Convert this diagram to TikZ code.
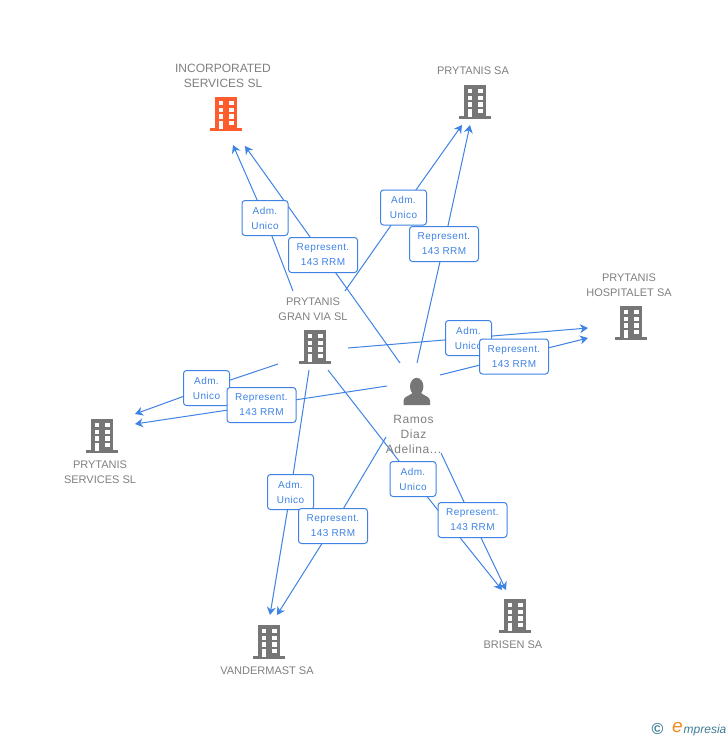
\documentclass[tikz,border=0pt]{standalone}
\usepackage{fontspec}
\setmainfont{Liberation Sans}
\newfontfamily\boxfont[LetterSpace=4]{Liberation Sans}
\newfontfamily\personfont[LetterSpace=5]{Liberation Sans}
\usetikzlibrary{arrows.meta}
\definecolor{linkblue}{HTML}{3F83E4}
\definecolor{icongray}{HTML}{767676}
\definecolor{textgray}{HTML}{7F7F7F}
\definecolor{iconorange}{HTML}{FF5C2E}
\definecolor{logoteal}{HTML}{3E7C96}
\definecolor{logoorange}{HTML}{F28A1E}
\tikzset{
  link/.style={draw=linkblue,line width=1pt},
  arrowlink/.style={link,-{Stealth[length=8pt,width=9pt]}},
  relbox/.style={draw=linkblue,line width=1pt,fill=white,rounded corners=3pt,align=center,
    text=linkblue,font=\boxfont\fontsize{10}{15}\selectfont,inner sep=0pt},
  admbox/.style={relbox,minimum width=46pt,minimum height=35pt},
  repbox/.style={relbox,minimum width=69pt,minimum height=35pt},
  company/.style={text=textgray,align=center,font=\fontsize{11}{15}\selectfont,inner sep=0pt},
  building/.pic={
    \fill[pic actions] (-11,-17) rectangle (11,15);
    \fill[pic actions] (-16,14) rectangle (16,17);
    \foreach \wy in {-13,-6.3,0.3}{
      \fill[white] (-7.5,\wy) rectangle ++(4.8,4.2);
      \fill[white] (2.7,\wy) rectangle ++(4.8,4.2);
    }
    \fill[white] (-7.5,7) rectangle (-2.7,14.7);
    \fill[white] (2.7,7) rectangle (7.5,11.2);
  }
}
\begin{document}
\begin{tikzpicture}[x=1pt,y=-1pt]
\useasboundingbox (0,0) rectangle (728,740);

\coordinate (gvin) at (293,291);
\coordinate (gvsa) at (345,291);
\coordinate (gvho) at (348,348);
\coordinate (gvse) at (278,364);
\coordinate (gvva) at (309,370);
\coordinate (gvbr) at (328,370);
\coordinate (rain) at (400,363);
\coordinate (rasa) at (417,363);
\coordinate (raho) at (440,375);
\coordinate (rase) at (387,386);
\coordinate (rava) at (386,437);
\coordinate (rabr) at (441,453);
\coordinate (incadm) at (233,145);
\coordinate (increp) at (245,146);
\coordinate (saadm) at (462,125);
\coordinate (sarep) at (470,125);
\coordinate (hoadm) at (588,328);
\coordinate (horep) at (588,338);
\coordinate (seadm) at (135,414);
\coordinate (serep) at (135,424);
\coordinate (vaadm) at (270,615);
\coordinate (varep) at (277,615);
\coordinate (bradm) at (502,590);
\coordinate (brrep) at (506,590);
\coordinate (m1) at (265,218);
\coordinate (m2) at (323,255);
\coordinate (m3) at (403.5,207.5);
\coordinate (m4) at (444,244);
\coordinate (m5) at (468.5,338);
\coordinate (m6) at (514,356.5);
\coordinate (m7) at (206.5,388);
\coordinate (m8) at (261.5,405);
\coordinate (m9) at (290.5,492);
\coordinate (m10) at (333,526);
\coordinate (m11) at (413,479);
\coordinate (m12) at (472.5,520);

\draw[arrowlink] (gvin) -- (m1) -- (incadm);
\draw[arrowlink] (rain) -- (m2) -- (increp);
\draw[arrowlink] (gvsa) -- (m3) -- (saadm);
\draw[arrowlink] (rasa) -- (m4) -- (sarep);
\draw[arrowlink] (gvho) -- (m5) -- (hoadm);
\draw[arrowlink] (raho) -- (m6) -- (horep);
\draw[arrowlink] (gvse) -- (m7) -- (seadm);
\draw[arrowlink] (rase) -- (m8) -- (serep);
\draw[arrowlink] (gvva) -- (m9) -- (vaadm);
\draw[arrowlink] (rava) -- (m10) -- (varep);
\draw[arrowlink] (gvbr) -- (m11) -- (bradm);
\draw[arrowlink] (rabr) -- (m12) -- (brrep);

\node[admbox] (adm1) at (m1) {Adm.\\Unico};
\node[repbox] (rep1) at (m2) {Represent.\\143 RRM};
\node[admbox] (adm2) at (m3) {Adm.\\Unico};
\node[repbox] (rep2) at (m4) {Represent.\\143 RRM};
\node[admbox] (adm3) at (m5) {Adm.\\Unico};
\node[repbox] (rep3) at (m6) {Represent.\\143 RRM};
\node[admbox] (adm4) at (m7) {Adm.\\Unico};
\node[repbox] (rep4) at (m8) {Represent.\\143 RRM};
\node[admbox] (adm5) at (m9) {Adm.\\Unico};
\node[repbox] (rep5) at (m10) {Represent.\\143 RRM};
\node[admbox] (adm6) at (m11) {Adm.\\Unico};
\node[repbox] (rep6) at (m12) {Represent.\\143 RRM};

\pic[fill=iconorange] at (226,114) {building};
\pic[fill=icongray] at (475,102) {building};
\pic[fill=icongray] at (631,323) {building};
\pic[fill=icongray] at (315,347) {building};
\pic[fill=icongray] at (102,436) {building};
\pic[fill=icongray] at (269,642) {building};
\pic[fill=icongray] at (515,616) {building};

\fill[icongray] (416.7,386.5) ellipse (6.7 and 8.7);
\fill[icongray] (403.5,405) -- (403.5,400.5) .. controls (404,396.5) and (409,396) .. (412.5,393)
  -- (421,393) .. controls (424.5,396) and (429.5,396.5) .. (430,400.5) -- (430,405) -- cycle;

\node[company,font=\fontsize{12}{15}\selectfont] (inc) at (223,75.5) {INCORPORATED\\SERVICES SL};
\node[company] (sa) at (473,71) {PRYTANIS SA};
\node[company] (hosp) at (629,285) {PRYTANIS\\HOSPITALET SA};
\node[company] (granvia) at (313,309) {PRYTANIS\\GRAN VIA SL};
\node[company] (serv) at (100,472.5) {PRYTANIS\\SERVICES SL};
\node[company] (vand) at (267,671) {VANDERMAST SA};
\node[company] (bris) at (513,645) {BRISEN SA};
\node[company,font=\personfont\fontsize{12}{15}\selectfont] (ramos) at (413.5,434) {Ramos\\Diaz\\Adelina...};

\node[text=logoteal,inner sep=0pt,font=\bfseries\fontsize{16}{16}\selectfont] (copy) at (657.5,729) {©};
\node[text=logoorange,inner sep=0pt,anchor=east,font=\itshape\fontsize{19}{19}\selectfont] (loge) at (683,727) {e};
\node[text=logoteal,inner sep=0pt,anchor=west,font=\itshape\fontsize{12}{12}\selectfont] (logo) at (683.5,730) {mpresia};
\end{tikzpicture}
\end{document}
